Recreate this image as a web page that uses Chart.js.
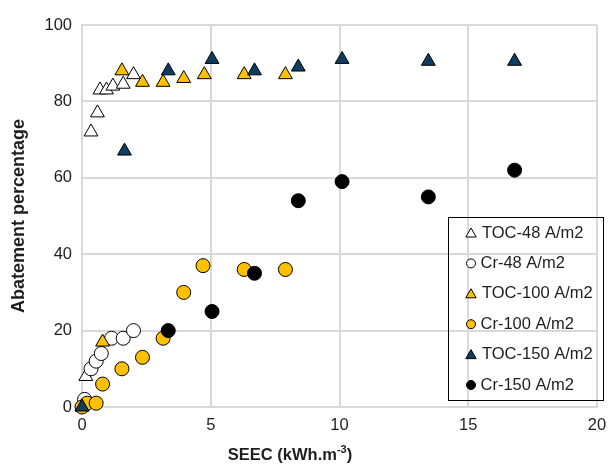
<!DOCTYPE html>
<html>
<head>
<meta charset="utf-8">
<script src="https://cdn.jsdelivr.net/npm/chart.js@4.4.0/dist/chart.umd.min.js"></script>
<style>
  html, body { margin: 0; padding: 0; background: #fff; }
  #wrap { width: 609px; height: 472px; }
</style>
</head>
<body>
<div id="wrap"><canvas id="chart"></canvas></div>
<script>
// SEEC (kWh/m3) vs abatement (%) for each current density
const toc48X = [0.15, 0.35, 0.6, 0.7, 0.95, 1.2, 1.6, 2.0];
const toc48Y = [8, 72, 77, 83, 83, 84, 84.5, 87];
const cr48X = [0.1, 0.35, 0.55, 0.75, 1.15, 1.6, 2.0];
const cr48Y = [2, 10, 12, 14, 18, 18, 20];
const toc100X = [0, 0.8, 1.55, 2.35, 3.15, 3.95, 4.75, 6.3, 7.9];
const toc100Y = [0, 17, 88, 85, 85, 86, 87, 87, 87];
const cr100X = [0, 0.2, 0.55, 0.8, 1.55, 2.35, 3.15, 3.95, 4.7, 6.3, 7.9];
const cr100Y = [0, 1, 1, 6, 10, 13, 18, 30, 37, 36, 36];
const toc150X = [0, 1.65, 3.35, 5.05, 6.7, 8.4, 10.1, 13.45, 16.8];
const toc150Y = [0, 67, 88, 91, 88, 89, 91, 90.5, 90.5];
const cr150X = [3.35, 5.05, 6.7, 8.4, 10.1, 13.45, 16.8];
const cr150Y = [20, 25, 35, 54, 59, 55, 62];

const xTicks = [0, 5, 10, 15, 20];
const yTicks = [0, 20, 40, 60, 80, 100];

const FONT = "'Liberation Sans', Arial, sans-serif";
const TEXT = "#1e1e1e";
const YELLOW = "#ffc000";
const NAVY = "#0e3d5f";

function pts(xs, ys) {
  return xs.map((x, i) => ({ x: x, y: ys[i] }));
}

function series(label, xs, ys, style, fill, order) {
  const r = style === "triangle" ? 8 : 7;
  return {
    label: label,
    data: pts(xs, ys),
    pointStyle: style,
    pointRadius: r,
    pointHoverRadius: r,
    backgroundColor: fill,
    borderColor: "#000",
    borderWidth: 1,
    showLine: false,
    clip: false,
    order: order,
  };
}

// legend box drawn inside the plot, no fill
const boxLegend = {
  id: "boxLegend",
  afterDraw(chart) {
    const ctx = chart.ctx;
    ctx.save();
    ctx.strokeStyle = "#000";
    ctx.lineWidth = 1;
    ctx.strokeRect(448.5, 217.5, 155, 183);
    ctx.font = "16.5px " + FONT;
    ctx.textBaseline = "middle";
    chart.data.datasets.forEach((ds, i) => {
      const y = 233 + i * 30.4;
      const tri = ds.pointStyle === "triangle";
      const r = tri ? 6 : 4.5;
      ctx.fillStyle = ds.backgroundColor;
      ctx.strokeStyle = "#000";
      ctx.lineWidth = 1;
      Chart.helpers.drawPoint(ctx, { pointStyle: ds.pointStyle, radius: r, borderWidth: 1 }, 471, tri ? y + 1 : y);
      ctx.fillStyle = TEXT;
      ctx.fillText(ds.label, 471 + r + 5, y);
    });
    ctx.restore();
  },
};

// x axis title with superscript
const xTitle = {
  id: "xTitle",
  afterDraw(chart) {
    const ctx = chart.ctx;
    ctx.save();
    ctx.fillStyle = TEXT;
    ctx.textBaseline = "alphabetic";
    const big = "bold 16.5px " + FONT;
    const small = "bold 11px " + FONT;
    const a = "SEEC (kWh.m", b = "-3", c = ")";
    ctx.font = big;
    const wa = ctx.measureText(a).width, wc = ctx.measureText(c).width;
    ctx.font = small;
    const wb = ctx.measureText(b).width;
    let x = 290 - (wa + wb + wc) / 2;
    const base = 460;
    ctx.font = big;
    ctx.fillText(a, x, base);
    x += wa;
    ctx.font = small;
    ctx.fillText(b, x, base - 7);
    x += wb;
    ctx.font = big;
    ctx.fillText(c, x, base);
    ctx.restore();
  },
};

const ctx = document.getElementById("chart").getContext("2d");
new Chart(ctx, {
  type: "scatter",
  data: {
    datasets: [
      series("TOC-48 A/m2", toc48X, toc48Y, "triangle", "#fff", 6),
      series("Cr-48 A/m2", cr48X, cr48Y, "circle", "#fff", 5),
      series("TOC-100 A/m2", toc100X, toc100Y, "triangle", YELLOW, 4),
      series("Cr-100 A/m2", cr100X, cr100Y, "circle", YELLOW, 3),
      series("TOC-150 A/m2", toc150X, toc150Y, "triangle", NAVY, 1),
      series("Cr-150 A/m2", cr150X, cr150Y, "circle", "#000", 2),
    ],
  },
  options: {
    responsive: true,
    maintainAspectRatio: false,
    animation: false,
    layout: { padding: { left: 0, top: 25, right: 12, bottom: 0 } },
    plugins: {
      legend: { display: false },
      tooltip: { enabled: false },
    },
    scales: {
      x: {
        type: "linear",
        min: 0,
        max: 20,
        afterBuildTicks: (s) => { s.ticks = xTicks.map((v) => ({ value: v })); },
        afterFit: (s) => { s.height = 65; s.paddingLeft = 0; s.paddingRight = 0; },
        grid: { color: "#d9d9d9", lineWidth: 2, drawTicks: false },
        border: { color: "#d9d9d9", width: 2 },
        ticks: { color: TEXT, font: { family: FONT, size: 16.5 }, padding: 9, maxRotation: 0 },
      },
      y: {
        type: "linear",
        min: 0,
        max: 100,
        afterBuildTicks: (s) => { s.ticks = yTicks.map((v) => ({ value: v })); },
        afterFit: (s) => { s.width = 82; s.paddingTop = 0; s.paddingBottom = 0; },
        grid: { color: "#d9d9d9", lineWidth: 2, drawTicks: false },
        border: { color: "#d9d9d9", width: 2 },
        ticks: { color: TEXT, font: { family: FONT, size: 16.5 }, padding: 10 },
        title: {
          display: true,
          text: "Abatement percentage",
          color: TEXT,
          font: { family: FONT, size: 18, weight: "bold" },
          padding: { top: 8 },
        },
      },
    },
  },
  plugins: [boxLegend, xTitle],
});
</script>
</body>
</html>
